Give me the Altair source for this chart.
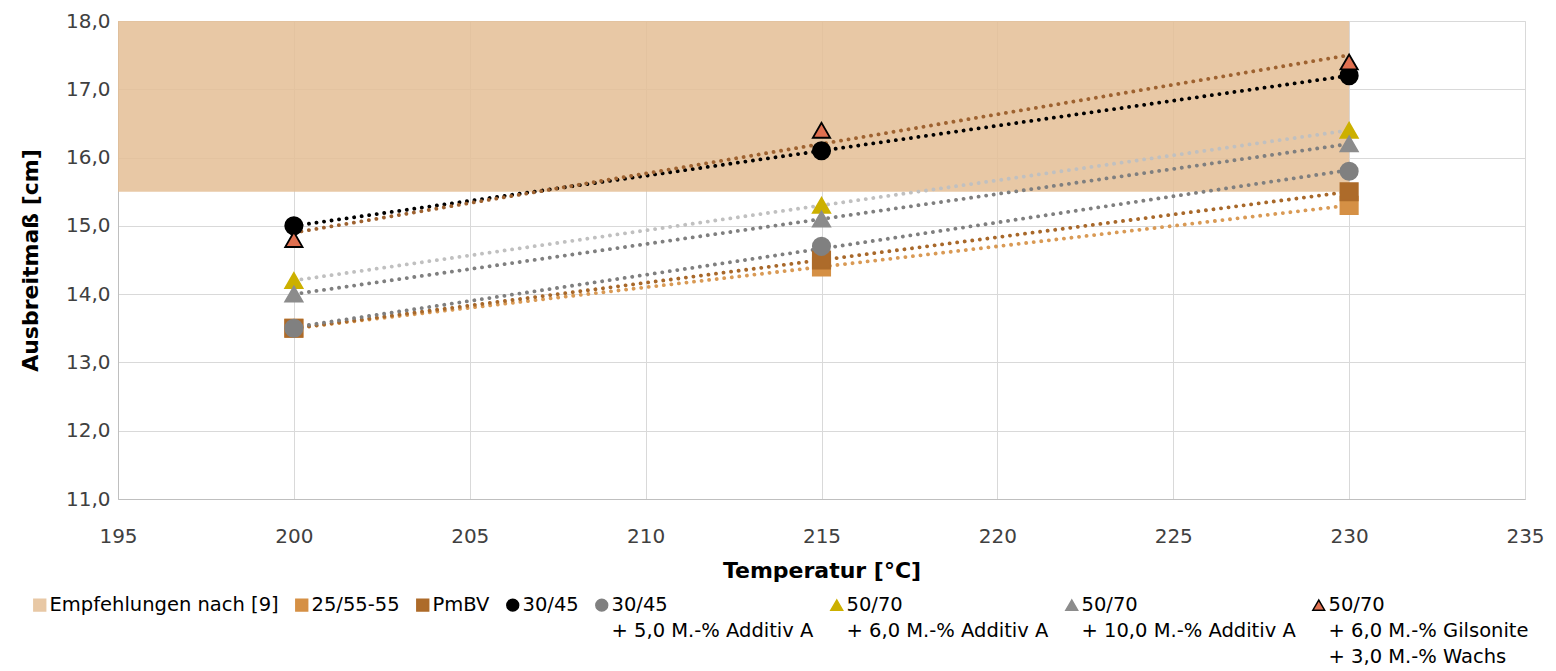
import altair as alt
import pandas as pd

temps = [200, 215, 230]
series = [
    "25/55-55",
    "PmBV",
    "30/45",
    "30/45\n+ 5,0 M.-% Additiv A",
    "50/70\n+ 6,0 M.-% Additiv A",
    "50/70\n+ 10,0 M.-% Additiv A",
    "50/70\n+ 6,0 M.-% Gilsonite\n+ 3,0 M.-% Wachs",
]
values = [
    [13.5, 14.4, 15.3],
    [13.5, 14.5, 15.5],
    [15.0, 16.1, 17.2],
    [13.5, 14.7, 15.8],
    [14.2, 15.3, 16.4],
    [14.0, 15.1, 16.2],
    [14.8, 16.4, 17.4],
]
band_label = "Empfehlungen nach [9]"
band_x = [195, 230]
band_y = [15.5, 18.0]

marker_colors = ["#D59045", "#AD6B2A", "#000000", "#808080", "#CCB000", "#8C8C8C", "#E07050"]
marker_shapes = ["square", "square", "circle", "circle", "triangle-up", "triangle-up", "triangle-up"]
marker_strokes = ["#D59045", "#AD6B2A", "#000000", "#808080", "#CCB000", "#8C8C8C", "#000000"]
trend_colors = ["#D99A55", "#A8682A", "#000000", "#7F7F7F", "#C0C0C0", "#7F7F7F", "#9E6230"]

rows = []
for i, s in enumerate(series):
    for t, v in zip(temps, values[i]):
        rows.append({"series": s, "order": i, "temp": t, "val": v,
                     "tcolor": trend_colors[i]})
df = pd.DataFrame(rows)

band_df = pd.DataFrame([{"x": band_x[0], "x2": band_x[1], "y": band_y[0], "y2": band_y[1]}])

domain = [band_label] + series
color_scale = alt.Scale(domain=domain, range=["#E8C8A5"] + marker_colors)
shape_scale = alt.Scale(domain=domain, range=["square"] + marker_shapes)
stroke_scale = alt.Scale(domain=domain, range=["#E8C8A5"] + marker_strokes)

FONT = "DejaVu Sans"
NB = "\u00a0"

label_expr = ("split(datum.label + "
              "(length(split(datum.label, '\\n')) == 1 ? '\\n" + NB + "\\n" + NB + "\\n" + NB + "\\n" + NB + "' : "
              "(length(split(datum.label, '\\n')) == 2 ? '\\n" + NB + "\\n" + NB + "\\n" + NB + "' : '\\n" + NB + "\\n" + NB + "')), '\\n')")

legend = alt.Legend(
    title=None, orient="none", legendX=-88, legendY=574, direction="horizontal",
    columns=8, labelFontSize=19.5, labelFont=FONT, labelColor="#000000",
    labelLimit=400, symbolSize=140, symbolStrokeWidth=1.5, columnPadding=13,
    labelOffset=0, labelBaseline="middle",
    labelExpr=label_expr, symbolOpacity=1,
)

xscale = alt.Scale(domain=[195, 235], nice=False, zero=False)
yscale = alt.Scale(domain=[11, 18], nice=False, zero=False)

band = alt.Chart(band_df).mark_rect(opacity=0.85, color="#E4BE95").encode(
    x=alt.X("x:Q", scale=xscale),
    x2="x2:Q",
    y=alt.Y("y:Q", scale=yscale),
    y2="y2:Q",
)

xaxis = alt.Axis(title="Temperatur [°C]", values=[195, 200, 205, 210, 215, 220, 225, 230, 235],
                 labelFontSize=20, labelFont=FONT, labelColor="#404040", labelPadding=27,
                 labelFlush=False,
                 titleFontSize=22, titleFont=FONT, titleFontWeight="bold", titleColor="#000000",
                 titleBaseline="middle", titleY=71,
                 ticks=False, domainColor="#BFBFBF", gridColor="#D9D9D9", grid=True)
yaxis = alt.Axis(title="Ausbreitmaß [cm]", values=[11, 12, 13, 14, 15, 16, 17, 18],
                 labelExpr="replace(format(datum.value, '.1f'), '.', ',')",
                 labelFontSize=20, labelFont=FONT, labelColor="#404040", labelPadding=8,
                 titleFontSize=22, titleFont=FONT, titleFontWeight="bold", titleColor="#000000",
                 titleBaseline="middle", titleX=-88, titleY=239,
                 ticks=False, domainColor="#BFBFBF", gridColor="#D9D9D9", grid=True)

grid = alt.Chart(df).mark_point(opacity=0).encode(
    x=alt.X("temp:Q", scale=xscale, axis=xaxis),
    y=alt.Y("val:Q", scale=yscale, axis=yaxis),
)

trend = alt.Chart(df).transform_regression(
    "temp", "val", groupby=["series", "tcolor"]
).mark_line(strokeDash=[0.1, 7.5], strokeCap="round", strokeWidth=3.8).encode(
    x=alt.X("temp:Q", scale=xscale),
    y=alt.Y("val:Q", scale=yscale),
    detail="series:N",
    stroke=alt.Stroke("tcolor:N", scale=None),
)

points = alt.Chart(df).mark_point(filled=True, size=300, opacity=1, strokeWidth=1.8).encode(
    x=alt.X("temp:Q", scale=xscale),
    y=alt.Y("val:Q", scale=yscale),
    color=alt.Color("series:N", scale=color_scale, legend=legend),
    shape=alt.Shape("series:N", scale=shape_scale, legend=legend),
    stroke=alt.Stroke("series:N", scale=stroke_scale, legend=legend),
    order=alt.Order("order:Q"),
)

chart = alt.layer(band, grid, trend, points).properties(
    width=1407, height=478,
    padding={"left": 118, "top": 21, "right": 31, "bottom": 172},
    autosize=alt.AutoSizeParams(type="none"),
).configure_view(stroke=None).configure(
    background="white",
    style={"guide-label": {"lineHeight": 26}},
)

chart.save("out.html", embed_options={"renderer": "svg", "actions": False})
